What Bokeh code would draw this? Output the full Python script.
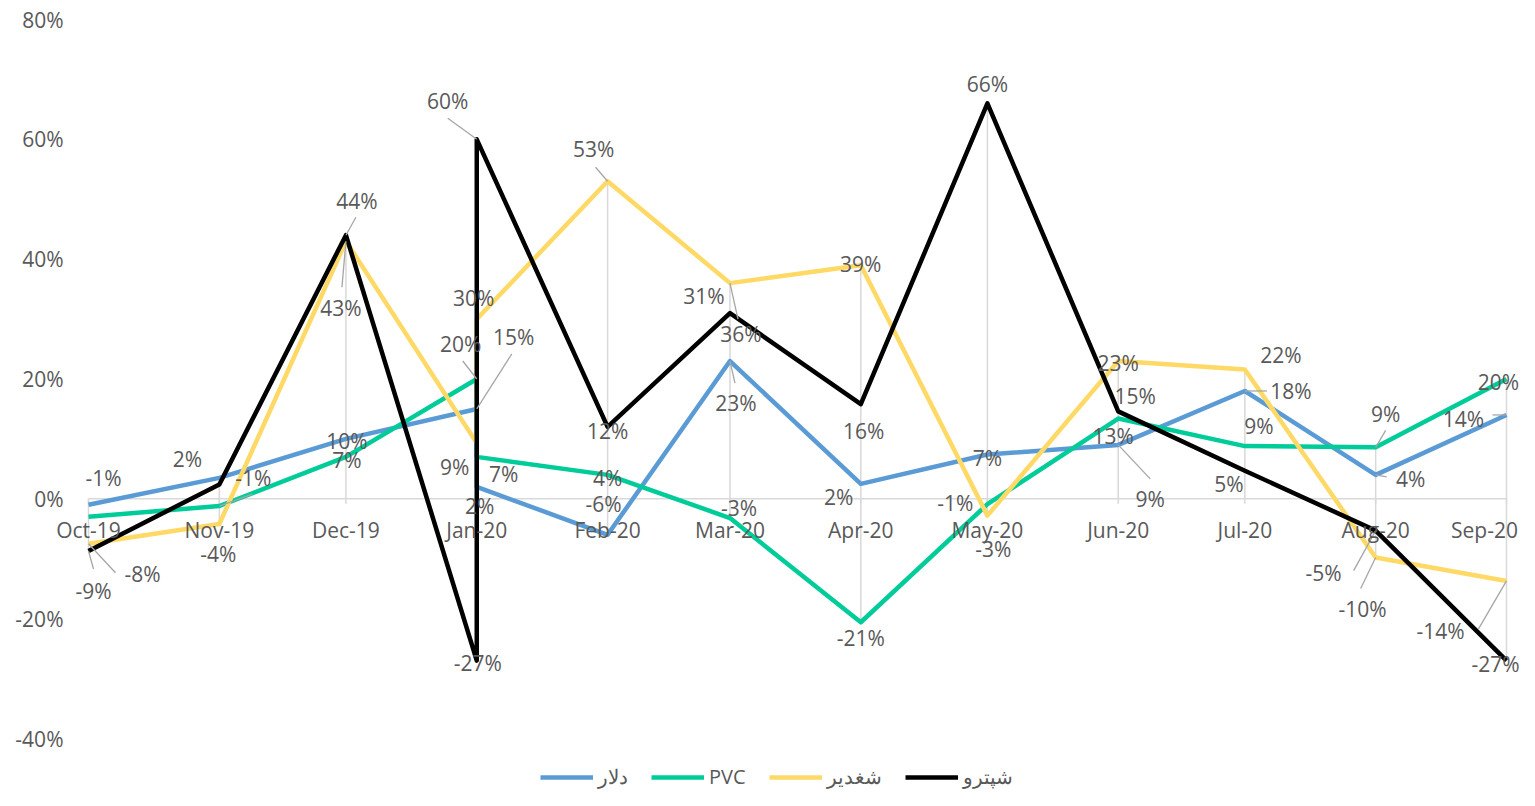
import pandas as pd
from bokeh.plotting import figure
from bokeh.models import (ColumnDataSource, Range1d, Legend, LegendItem, LabelSet)
from bokeh.core.properties import value
from bokeh.embed import file_html
from bokeh.resources import INLINE

# ---------------- data ----------------
dates = ["2019-10-01", "2019-11-01", "2019-12-01", "2020-01-01", "2020-01-01",
         "2020-02-01", "2020-03-01", "2020-04-01", "2020-05-01", "2020-06-01",
         "2020-07-01", "2020-08-01", "2020-09-01"]
month_ticks = ["2019-10-01", "2019-11-01", "2019-12-01", "2020-01-01", "2020-02-01",
               "2020-03-01", "2020-04-01", "2020-05-01", "2020-06-01", "2020-07-01",
               "2020-08-01", "2020-09-01"]
month_labels = ["Oct-19", "Nov-19", "Dec-19", "Jan-20", "Feb-20", "Mar-20", "Apr-20",
                "May-20", "Jun-20", "Jul-20", "Aug-20", "Sep-20"]
y_ticks = [-40, -20, 0, 20, 40, 60, 80]

series_names = ["دلار", "PVC", "شغدیر", "شپترو"]
dollar = [-1, 3.5, 10, 15, 2, -6, 23, 2.5, 7.4, 9, 18, 4, 14]
pvc = [-3, -1.2, 7, 20, 7, 4, -3.2, -20.6, -0.9, 13.4, 8.8, 8.6, 20]
shaghadir = [-7.5, -4.2, 43, 9.3, 30, 53, 36, 39, -2.8, 23, 21.6, -9.8, -13.7]
shapetro = [-8.7, 2.4, 44, -27, 60, 12, 31, 15.8, 66, 14.6, 4.7, -5.3, -27]
series_values = [dollar, pvc, shaghadir, shapetro]

# ---------------- styles / label placement (screen px, +dy = down) ----------------
colors = ["#5B9BD5", "#00CC99", "#FFD966", "#000000"]
label_offsets = [
    [(15, -27), None, (1, 2), (37, -72), (3, 19), (-4, -31), (6, 42), (-22, 13), (0, 4),
     (32, 54), (46, 0), (35, 4), (-43, 4)],
    [None, (34, -28), (1, 3), (-16, -35), (27, 17), (0, 3), (9, -10), (0, 16), (-32, -1),
     (-5, 17), (14, -20), (10, -33), (-8, 3)],
    [(54, 30), (-1, 30), (-5, 67), (-22, 24), (-3, -21), (-14, -32), (11, 51), (0, -1),
     (6, 33), (0, 2), (36, -14), (-13, 51), (-66, 50)],
    [(5, 40), (-32, -25), (11, -34), (1, 2), (-29, -38), (0, 4), (-26, -17), (3, 27),
     (0, -19), (17, -15), (-16, 13), (-52, 42), (-11, 3)],
]
leader_offsets = [
    {3: (35, -55), 6: (5, 22), 9: (32, 34), 10: (22, 0), 11: (11, 2), 12: (-14, 0)},
    {1: (33, -12), 3: (-14, -18), 11: (10, -17)},
    {0: (27, 29), 2: (-4, 46), 5: (-12, -14), 6: (8, 36), 11: (-15, 31), 12: (-28, 48)},
    {0: (5, 18), 2: (10, -18), 4: (-29, -21), 11: (-22, 40)},
]
month_label_dx = [0] * 11 + [-22]   # keep the last month label inside the canvas

TEXT_COLOR = "#595959"
GRID_COLOR = "#D9D9D9"
FONT = "Open Sans"
FONT_SIZE = "21px"

W, H = 1519, 790                 # canvas
PLOT_L, PLOT_R, PLOT_T = 88, 1506, 19   # plot area edges in canvas px
PX_PER_UNIT = 719 / 120
Y_TOP = 80

x_dt = pd.to_datetime(dates)
x_start = pd.Timestamp(month_ticks[0])
x_end = pd.Timestamp(month_ticks[-1])
ms = lambda t: t.value / 1e6
ms_per_px = (ms(x_end) - ms(x_start)) / (PLOT_R - PLOT_L)
units_per_px = 1 / PX_PER_UNIT

xr = Range1d(ms(x_start) - PLOT_L * ms_per_px, ms(x_end) + (W - PLOT_R) * ms_per_px)
y1 = Y_TOP + PLOT_T * units_per_px
yr = Range1d(y1 - H * units_per_px, y1)

p = figure(frame_width=W, frame_height=H, x_range=xr, y_range=yr,
           x_axis_type="datetime", x_axis_location=None, y_axis_location=None,
           min_border=0, output_backend="svg", toolbar_location=None)
p.outline_line_color = None
p.grid.visible = False
p.background_fill_color = "white"

label_style = dict(text_font=value(FONT), text_font_size=value(FONT_SIZE),
                   text_color=TEXT_COLOR, text_baseline="middle")

# y tick labels
ysrc = ColumnDataSource(dict(x=[x_start] * len(y_ticks), y=y_ticks,
                             t=[f"{t}%" for t in y_ticks]))
p.add_layout(LabelSet(x="x", y="y", text="t", source=ysrc, x_offset=-25,
                      text_align="right", **label_style))

# drop lines: from the extreme values at each month to the axis
df = pd.DataFrame({"x": x_dt})
for i, vals in enumerate(series_values):
    df[f"s{i}"] = vals
g = df.groupby("x")
lo = g.min(numeric_only=True).min(axis=1).clip(upper=0)
hi = g.max(numeric_only=True).max(axis=1).clip(lower=0)
drop_src = ColumnDataSource(dict(x=list(lo.index), lo=list(lo.values), hi=list(hi.values)))
p.segment(x0="x", y0="lo", x1="x", y1="hi", source=drop_src,
          line_color=GRID_COLOR, line_width=1.5)

# category axis on the zero line, with small ticks
p.segment(x0=[x_start], y0=[0], x1=[x_end], y1=[0], line_color=GRID_COLOR, line_width=1.5)
mt = pd.to_datetime(month_ticks)
p.segment(x0=mt, y0=[0] * len(mt), x1=mt, y1=[-5 * units_per_px] * len(mt),
          line_color=GRID_COLOR, line_width=1.5)
month_src = ColumnDataSource(dict(x=mt, y=[0] * len(mt), t=month_labels, dx=month_label_dx))
p.add_layout(LabelSet(x="x", y="y", text="t", source=month_src, x_offset="dx", y_offset=-31,
                      text_align="center", **label_style))

renderers = []
for i, vals in enumerate(series_values):
    src = ColumnDataSource(dict(x=x_dt, y=vals))
    r = p.line("x", "y", source=src, line_color=colors[i], line_width=4.5,
               line_join="round")
    renderers.append(r)

# leader lines
lx0, ly0, lx1, ly1 = [], [], [], []
for i, vals in enumerate(series_values):
    for j, (dx, dy) in leader_offsets[i].items():
        xm = ms(x_dt[j])
        lx0.append(xm); ly0.append(vals[j])
        lx1.append(xm + dx * ms_per_px); ly1.append(vals[j] - dy * units_per_px)
p.segment(x0=lx0, y0=ly0, x1=lx1, y1=ly1, line_color="#A6A6A6", line_width=1.3)

# data labels
for i, vals in enumerate(series_values):
    xs, ys, dxs, dys, txt = [], [], [], [], []
    for j, v in enumerate(vals):
        off = label_offsets[i][j]
        if off is None:
            continue
        xs.append(x_dt[j]); ys.append(v); dxs.append(off[0]); dys.append(-off[1])
        txt.append(f"{int(round(v))}%")
    lsrc = ColumnDataSource(dict(x=xs, y=ys, dx=dxs, dy=dys, t=txt))
    p.add_layout(LabelSet(x="x", y="y", text="t", x_offset="dx", y_offset="dy", source=lsrc,
                          text_align="center", **label_style))

legend = Legend(items=[LegendItem(label=series_names[i], renderers=[renderers[i]])
                       for i in range(4)],
                orientation="horizontal", location=(540, 0),
                glyph_width=53, glyph_height=20, label_standoff=5, spacing=23,
                padding=0, margin=0, border_line_color=None, background_fill_alpha=0,
                label_text_font=FONT, label_text_font_size="20px",
                label_text_color=TEXT_COLOR)
p.add_layout(legend)

open("out.html", "w").write(file_html(p, INLINE))
